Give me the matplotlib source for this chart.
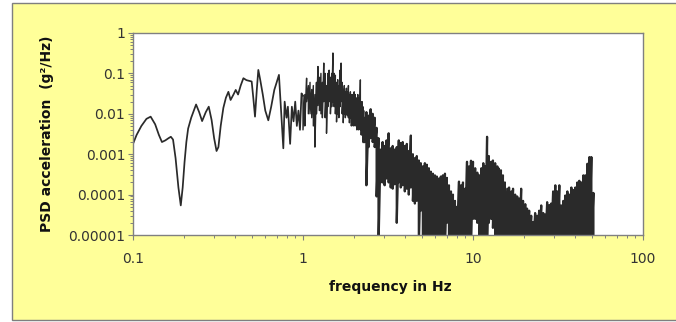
import numpy as np
import matplotlib
matplotlib.use("Agg")
import matplotlib.pyplot as plt
from matplotlib.patches import Rectangle
from matplotlib.ticker import LogLocator, FixedLocator, FixedFormatter, NullFormatter

# ---------------- data ----------------
# smooth / moderately noisy part 0.1 - 1 Hz
freq_low = [0.100, 0.105, 0.112, 0.120, 0.127, 0.135, 0.142, 0.148, 0.155, 0.162,
            0.167, 0.172, 0.178, 0.185, 0.191, 0.196, 0.201, 0.206, 0.211, 0.220,
            0.235, 0.245, 0.255, 0.268, 0.279, 0.290, 0.300, 0.310, 0.318, 0.328,
            0.340, 0.352, 0.364, 0.375, 0.390, 0.402, 0.415, 0.430, 0.446, 0.465,
            0.485, 0.499, 0.510, 0.522, 0.535, 0.546, 0.560, 0.580, 0.600, 0.625,
            0.650, 0.678, 0.700, 0.722, 0.745, 0.766, 0.780, 0.800, 0.815, 0.840,
            0.860, 0.880, 0.900, 0.920, 0.940, 0.960, 0.980]
psd_low = [1.8e-3, 3.0e-3, 5.0e-3, 7.5e-3, 8.5e-3, 5.5e-3, 3.0e-3, 2.0e-3, 2.2e-3, 2.5e-3,
           2.7e-3, 2.3e-3, 8e-4, 1.5e-4, 5.4e-5, 1.5e-4, 6.4e-4, 2.0e-3, 4.3e-3, 8.0e-3,
           1.7e-2, 1.1e-2, 6.6e-3, 1.1e-2, 1.5e-2, 7e-3, 2.5e-3, 1.2e-3, 1.5e-3, 5e-3,
           1.4e-2, 2.5e-2, 3.5e-2, 2.2e-2, 3.0e-2, 3.9e-2, 3.0e-2, 5.0e-2, 7.6e-2, 6.8e-2,
           6.5e-2, 6.3e-2, 2.5e-2, 8.5e-3, 4.0e-2, 1.22e-1, 7.0e-2, 3.0e-2, 1.2e-2, 6.9e-3,
           1.5e-2, 3.9e-2, 6.0e-2, 9.2e-2, 1.0e-2, 1.4e-3, 2.0e-2, 8.0e-3, 1.5e-2, 1.8e-3,
           1.5e-2, 6.5e-3, 2.0e-2, 5.0e-3, 1.2e-2, 4.0e-3, 3.2e-2]

# noisy peak 1 - 2.3 Hz: local maxima / minima
freq_mid = [1.000, 1.025, 1.050, 1.075, 1.100, 1.125, 1.150, 1.175, 1.200, 1.225,
            1.250, 1.275, 1.300, 1.325, 1.350, 1.375, 1.400, 1.425, 1.450, 1.475,
            1.500, 1.525, 1.550, 1.575, 1.600, 1.625, 1.650, 1.675, 1.700, 1.725,
            1.750, 1.775, 1.800, 1.825, 1.850, 1.875, 1.900, 1.925, 1.950, 1.975,
            2.000, 2.025, 2.050, 2.075, 2.100, 2.125, 2.150, 2.175, 2.200, 2.225,
            2.250, 2.275]
psd_mid_hi = [0.028, 0.03, 0.076, 0.05, 0.06, 0.04, 0.05, 0.03, 0.06, 0.148,
              0.08, 0.1, 0.06, 0.18, 0.1, 0.05, 0.1, 0.12, 0.08, 0.1,
              0.32, 0.1, 0.09, 0.06, 0.07, 0.05, 0.12, 0.18, 0.06, 0.04,
              0.05, 0.035, 0.043, 0.035, 0.05, 0.03, 0.035, 0.03, 0.03, 0.025,
              0.035, 0.03, 0.025, 0.02, 0.03, 0.02, 0.025, 0.069, 0.02, 0.02,
              0.015, 0.012]
psd_mid_lo = [0.004, 0.005, 0.02, 0.01, 0.01, 0.008, 0.005, 0.0015, 0.01, 0.016,
              0.012, 0.01, 0.008, 0.02, 0.008, 0.0033, 0.015, 0.02, 0.01, 0.015,
              0.02, 0.015, 0.01, 0.0063, 0.01, 0.008, 0.015, 0.02, 0.01, 0.006,
              0.01, 0.008, 0.01, 0.009, 0.008, 0.006, 0.008, 0.005, 0.007, 0.005,
              0.006, 0.005, 0.006, 0.004, 0.005, 0.004, 0.005, 0.004, 0.003, 0.003,
              0.002, 0.002]

# dense part 2.3 - 51 Hz: local maxima / minima
freq_dense = [2.30, 2.36, 2.43, 2.50, 2.57, 2.64, 2.71, 2.78, 2.86, 2.94,
              3.02, 3.10, 3.19, 3.28, 3.37, 3.46, 3.56, 3.66, 3.76, 3.86,
              3.97, 4.08, 4.19, 4.31, 4.43, 4.55, 4.67, 4.80, 4.93, 5.07,
              5.21, 5.35, 5.50, 5.65, 5.81, 5.97, 6.13, 6.30, 6.47, 6.65,
              6.84, 7.02, 7.22, 7.42, 7.62, 7.83, 8.05, 8.27, 8.50, 8.73,
              8.97, 9.22, 9.47, 9.73, 10.0, 10.3, 10.6, 10.9, 11.2, 11.5,
              11.8, 12.1, 12.4, 12.8, 13.1, 13.5, 13.9, 14.2, 14.6, 15.0,
              15.4, 15.9, 16.3, 16.8, 17.2, 17.7, 18.2, 18.7, 19.2, 19.7,
              20.3, 20.8, 21.4, 22.0, 22.6, 23.2, 23.8, 24.5, 25.2, 25.9,
              26.6, 27.3, 28.1, 28.8, 29.6, 30.5, 31.3, 32.2, 33.0, 34.0,
              34.9, 35.9, 36.8, 37.9, 38.9, 40.0, 41.1, 42.2, 43.4, 44.6,
              45.8, 47.1, 48.4, 49.7, 51.1]
psd_dense_hi = [8e-3, 1.1e-2, 9e-3, 1.3e-2, 1.0e-2, 8e-3, 4.5e-3, 2.5e-3, 1.3e-3, 2.0e-3,
                1.6e-3, 2.2e-3, 3.3e-3, 1.4e-3, 1.6e-3, 1.3e-3, 1.5e-3, 2.2e-3, 1.9e-3, 2.0e-3,
                1.6e-3, 1.8e-3, 1.2e-3, 2.9e-3, 1.0e-3, 8e-4, 9e-4, 7e-4, 6e-4, 5e-4,
                6e-4, 5.5e-4, 4.5e-4, 3.7e-4, 3.3e-4, 3e-4, 2.8e-4, 2.5e-4, 2.8e-4, 3e-4,
                3.3e-4, 2.6e-4, 1.7e-4, 1.2e-4, 1.0e-4, 7e-5, 5e-5, 2.1e-4, 1.7e-4, 2e-4,
                1.4e-4, 6.5e-4, 5e-4, 6.9e-4, 6.5e-4, 4.5e-4, 3.5e-4, 3e-4, 4.5e-4, 6e-4,
                5e-4, 2.7e-3, 9e-4, 6.5e-4, 7e-4, 6e-4, 5e-4, 4.4e-4, 4e-4, 3e-4,
                2e-4, 1.4e-4, 1.5e-4, 1.2e-4, 1.4e-4, 1.0e-4, 9e-5, 8e-5, 1.4e-4, 7e-5,
                5.8e-5, 4.5e-5, 4e-5, 3e-5, 2.1e-5, 3.5e-5, 3e-5, 4e-5, 5.4e-5, 3.5e-5,
                3.2e-5, 6.5e-5, 5.5e-5, 6e-5, 1.2e-4, 1.7e-4, 1.2e-4, 1.7e-4, 5.4e-5, 7e-5,
                9.5e-5, 1.2e-4, 1.0e-4, 1.5e-4, 1.3e-4, 1.5e-4, 2e-4, 2.2e-4, 2e-4, 3e-4,
                3e-4, 5.8e-4, 8.5e-4, 8.5e-4, 1.1e-4]
psd_dense_lo = [2e-3, 1.7e-4, 1.5e-3, 2.5e-3, 2e-3, 1.5e-3, 9e-5, 5e-6, 2e-4, 2e-4,
                1.7e-4, 2.5e-4, 2e-4, 1.5e-4, 1.4e-4, 1.8e-4, 2e-5, 2e-4, 1.5e-4, 1.7e-4,
                1.2e-4, 1.4e-4, 1e-4, 1.5e-4, 7e-5, 6e-5, 7e-5, 5e-6, 4e-5, 5e-6,
                5e-6, 6e-6, 5e-6, 5e-6, 6e-6, 5e-6, 5e-6, 6e-6, 5e-6, 5e-6,
                5e-6, 2e-5, 6e-6, 5e-6, 5e-6, 6e-6, 5e-6, 5e-6, 6e-6, 5e-6,
                5e-6, 6e-6, 5e-6, 5e-6, 2.5e-5, 2.5e-5, 2e-5, 5e-6, 6e-6, 5e-6,
                6e-6, 5e-6, 2e-5, 2.5e-5, 1.5e-5, 5e-6, 6e-6, 5e-6, 5e-6, 6e-6,
                5e-6, 5e-6, 6e-6, 5e-6, 5e-6, 6e-6, 5e-6, 5e-6, 6e-6, 5e-6,
                5e-6, 6e-6, 5e-6, 5e-6, 5e-6, 6e-6, 5e-6, 5e-6, 6e-6, 5e-6,
                5e-6, 6e-6, 5e-6, 5e-6, 6e-6, 5e-6, 5e-6, 6e-6, 5e-6, 5e-6,
                6e-6, 5e-6, 5e-6, 6e-6, 5e-6, 5e-6, 6e-6, 5e-6, 5e-6, 6e-6,
                5e-6, 5e-6, 6e-6, 5e-6, 5e-6]

x_ticks = [0.1, 1, 10, 100]
x_tick_labels = ["0.1", "1", "10", "100"]
y_ticks = [1e-5, 1e-4, 1e-3, 1e-2, 1e-1, 1]
y_tick_labels = ["0.00001", "0.0001", "0.001", "0.01", "0.1", "1"]
x_title = "frequency in Hz"
y_title = "PSD acceleration  (g\u00b2/Hz)"

# ---------------- build the trace ----------------
xs_a = list(freq_low) + [freq_mid[0]]
ys_a = list(psd_low) + [psd_mid_hi[0]]
xs_b, ys_b = [], []
for f, h, l in zip(freq_mid, psd_mid_hi, psd_mid_lo):
    xs_b += [f, f]
    ys_b += [h, l]
xs_c, ys_c = [xs_b[-1]], [ys_b[-1]]
for f, h, l in zip(freq_dense, psd_dense_hi, psd_dense_lo):
    xs_c += [f, f]
    ys_c += [h, l]

# ---------------- figure ----------------
W, H = 676, 322
fig = plt.figure(figsize=(W / 100, H / 100), dpi=100)
fig.patch.set_facecolor("white")

bg = Rectangle((12 / W, 2 / H), 1.0, (319 - 2) / H, transform=fig.transFigure,
               facecolor="#FFFF99", edgecolor="#7f7f7f", linewidth=1.0, zorder=-10)
fig.patches.append(bg)

left, right, top, bottom = 133, 643, 33, 235
ax = fig.add_axes([left / W, (H - bottom) / H, (right - left) / W, (bottom - top) / H])
ax.set_zorder(5)
ax.set_facecolor("white")

line_color = "#2a2a2a"
ax.plot(xs_a, ys_a, color=line_color, linewidth=1.25)
ax.plot(xs_b, ys_b, color=line_color, linewidth=1.0)
ax.plot(xs_c, ys_c, color=line_color, linewidth=1.6)

ax.set_xscale("log")
ax.set_yscale("log")
ax.set_xlim(0.1, 100)
ax.set_ylim(1e-5, 1)

ax.xaxis.set_major_locator(FixedLocator(x_ticks))
ax.xaxis.set_major_formatter(FixedFormatter(x_tick_labels))
ax.yaxis.set_major_locator(FixedLocator(y_ticks))
ax.yaxis.set_major_formatter(FixedFormatter(y_tick_labels))
ax.xaxis.set_minor_locator(LogLocator(base=10, subs=np.arange(2, 10), numticks=20))
ax.yaxis.set_minor_locator(LogLocator(base=10, subs=np.arange(2, 10), numticks=20))
ax.xaxis.set_minor_formatter(NullFormatter())
ax.yaxis.set_minor_formatter(NullFormatter())

for s in ax.spines.values():
    s.set_color("#808080")
    s.set_linewidth(1.0)

ax.tick_params(axis="both", which="major", direction="out", length=3.5, width=0.8,
               color="#808080", labelsize=10, labelcolor="#333333")
ax.tick_params(axis="both", which="minor", direction="out", length=2, width=0.7,
               color="#808080")
ax.tick_params(axis="x", which="major", pad=9)
ax.tick_params(axis="y", which="major", pad=2)

fig.text(390 / W, (H - 287) / H, x_title, ha="center", va="center",
         fontsize=10, fontweight="bold", color="#111111", family="DejaVu Sans")
fig.text(47 / W, (H - 134) / H, y_title, ha="center", va="center", rotation=90,
         fontsize=10, fontweight="bold", color="#111111", family="DejaVu Sans")

fig.savefig("out.png", dpi=100, facecolor=fig.get_facecolor())
